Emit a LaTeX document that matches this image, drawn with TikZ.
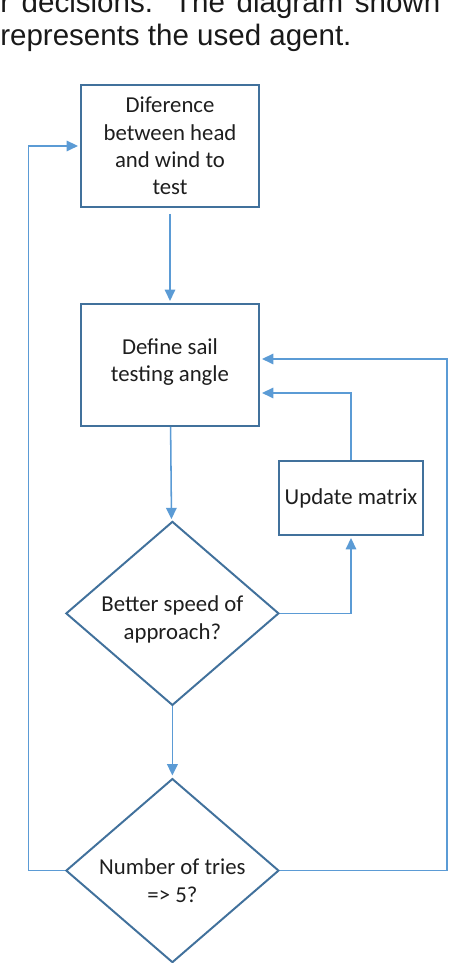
\documentclass[tikz,border=0pt]{standalone}
\usepackage{fontspec}
\setmainfont{Liberation Sans}
\newfontfamily\calibri{Carlito}
\usepackage{tikz}
\usetikzlibrary{shapes.geometric,arrows.meta}
\definecolor{boxline}{RGB}{65,113,156}
\definecolor{flowline}{RGB}{91,155,213}
\definecolor{txt}{RGB}{30,30,30}

\tikzset{
    caption/.style={inner sep=0pt, align=center, text=txt, font=\calibri\fontsize{16.2}{19.5}\selectfont},
    box/.style={caption, draw=boxline, line width=1.4pt, minimum width=4.45cm, minimum height=3.05cm},
    decision/.style={diamond, aspect=1.16, draw=boxline, line width=1.4pt, minimum width=5.325cm,
        minimum height=4.6cm, inner sep=0pt},
    flow/.style={draw=flowline, line width=1.1pt, -{Triangle[length=8pt,width=7.5pt]}, shorten >=1.5pt},
    intro/.style={anchor=base west, inner sep=0pt, text=black!90, font=\fontsize{21}{23.5}\selectfont}
}

\begin{document}
\begin{tikzpicture}
    \useasboundingbox (0,0) rectangle (11.375,24.075);
    % text above the chart
    \node[intro] (introa) at (0,23.75) {\makebox[11cm][s]{r decisions. The diagram shown}};
    \node[intro] (introb) at (0,22.925) {represents the used agent.};
    % chart
    \node[box] (diff) at (4.25,20.425) {Diference\\between head\\and wind to\\test};
    \node[box, label={[caption, yshift=0.075cm]center:Define sail\\testing angle}] (sail) at (4.25,14.95) {};
    \node[box, minimum width=3.6cm, minimum height=1.85cm] (update) at (8.775,11.625) {Update matrix};
    \node[decision, label={[caption, yshift=-0.15cm]center:Better speed of\\approach?}] (better) at (4.31,8.74) {};
    \node[decision, label={[caption, yshift=-0.25cm]center:Number of tries\\=> 5?}] (tries) at (4.31,2.31) {};
    \coordinate (leftrail) at (0.71,2.31);
    \coordinate (rightrail) at (11.17,2.31);
    % connectors
    \draw[flow, shorten <=0.15cm] (diff) -- (sail);
    \draw[flow] (sail) -- (better);
    \draw[flow] (better.east) -| (update.south);
    \draw[flow] (update.north) |- ([yshift=-0.7cm]sail.east);
    \draw[flow] (better) -- (tries);
    \draw[flow] (tries.east) -- (rightrail) |- ([yshift=0.15cm]sail.east);
    \draw[flow] (tries.west) -- (leftrail) |- (diff.west);
\end{tikzpicture}
\end{document}
